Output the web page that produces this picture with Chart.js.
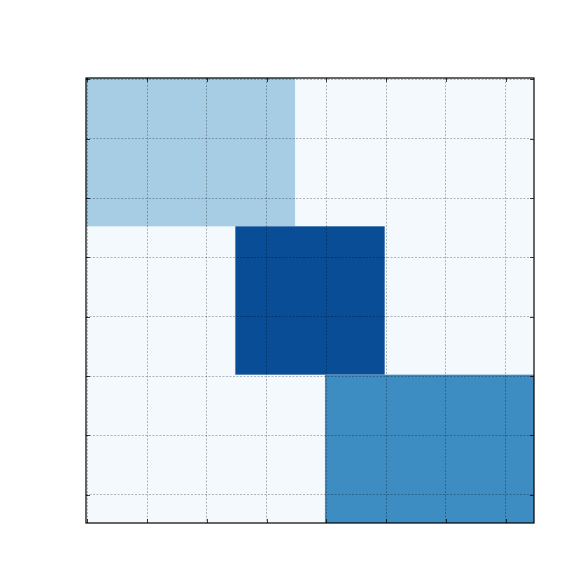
<!DOCTYPE html>
<html>
<head>
<meta charset="utf-8">
<script src="https://cdn.jsdelivr.net/npm/chart.js@4/dist/chart.umd.min.js"></script>
<style>
html,body{margin:0;padding:0;background:#fff;}
#wrap{width:576px;height:576px;}
</style>
</head>
<body>
<div id="wrap"><canvas id="c" width="576" height="576"></canvas></div>
<script>
// Matrix size (rows x columns)
const nRows = 150;
const nCols = 150;
// Biclusters: row span, column span and mean value (0..1 on the Blues scale)
const blockRowStart = [0, 50, 100];
const blockRowEnd   = [50, 100, 150];
const blockColStart = [0, 50, 80];
const blockColEnd   = [70, 100, 150];
const blockValues   = [0.35, 0.89, 0.645];
const backgroundValue = 0.015;
// Tick positions (labels hidden in the reference)
const xTicks = [0, 20, 40, 60, 80, 100, 120, 140];
const yTicks = [0, 20, 40, 60, 80, 100, 120, 140];

// Blues colormap anchors
const bluesStops = [
  [247,251,255],[222,235,247],[198,219,239],[158,202,225],
  [107,174,214],[66,146,198],[33,113,181],[8,81,156],[8,48,107]
];
function blues(v){
  v = Math.max(0, Math.min(1, v));
  const p = v * (bluesStops.length - 1);
  const i = Math.min(Math.floor(p), bluesStops.length - 2);
  const t = p - i;
  const a = bluesStops[i], b = bluesStops[i+1];
  const c = a.map((x,k)=>Math.round(x + (b[k]-x)*t));
  return `rgb(${c[0]},${c[1]},${c[2]})`;
}

const heatmapPlugin = {
  id: 'heatmap',
  beforeDatasetsDraw(chart){
    const {ctx, scales:{x, y}} = chart;
    const rect = (c0, c1, r0, r1, v) => {
      const px0 = x.getPixelForValue(c0 - 0.5);
      const px1 = x.getPixelForValue(c1 - 0.5);
      const py0 = y.getPixelForValue(r0 - 0.5);
      const py1 = y.getPixelForValue(r1 - 0.5);
      ctx.fillStyle = blues(v);
      ctx.fillRect(Math.min(px0,px1), Math.min(py0,py1), Math.abs(px1-px0), Math.abs(py1-py0));
    };
    ctx.save();
    rect(0, nCols, 0, nRows, backgroundValue);
    for (let i = 0; i < blockValues.length; i++) {
      rect(blockColStart[i], blockColEnd[i], blockRowStart[i], blockRowEnd[i], blockValues[i]);
    }
    ctx.restore();
  },
  afterDraw(chart){
    const {ctx, chartArea:a, scales:{x, y}} = chart;
    const L = 4;
    ctx.save();
    ctx.strokeStyle = 'rgba(0,0,0,0.75)';
    ctx.lineWidth = 1;
    ctx.beginPath();
    xTicks.forEach(t => {
      const px = Math.round(x.getPixelForValue(t)) + 0.5;
      ctx.moveTo(px, a.bottom); ctx.lineTo(px, a.bottom - L);
      ctx.moveTo(px, a.top); ctx.lineTo(px, a.top + L);
    });
    yTicks.forEach(t => {
      const py = Math.round(y.getPixelForValue(t)) + 0.5;
      ctx.moveTo(a.left, py); ctx.lineTo(a.left + L, py);
      ctx.moveTo(a.right, py); ctx.lineTo(a.right - L, py);
    });
    ctx.stroke();
    ctx.strokeStyle = '#000';
    ctx.lineWidth = 1.2;
    ctx.strokeRect(a.left, a.top, a.right - a.left, a.bottom - a.top);
    ctx.restore();
  }
};

const gridOpts = {
  color: 'rgba(0,0,0,0.28)',
  lineWidth: 1,
  drawTicks: false,
  z: 1
};

new Chart(document.getElementById('c'), {
  type: 'scatter',
  data: { datasets: [{ data: [] }] },
  options: {
    responsive: false,
    animation: false,
    layout: { padding: { left: 86, right: 42, top: 78, bottom: 53 } },
    plugins: { legend: { display: false }, tooltip: { enabled: false } },
    scales: {
      x: {
        type: 'linear', min: -0.5, max: nCols - 0.5,
        afterBuildTicks: s => { s.ticks = xTicks.map(v => ({value: v})); },
        ticks: { display: false },
        grid: gridOpts,
        border: { display: false, dash: [2,1.5] }
      },
      y: {
        type: 'linear', min: -0.5, max: nRows - 0.5, reverse: true,
        afterBuildTicks: s => { s.ticks = yTicks.map(v => ({value: v})); },
        ticks: { display: false },
        grid: gridOpts,
        border: { display: false, dash: [2,1.5] }
      }
    }
  },
  plugins: [heatmapPlugin]
});
</script>
</body>
</html>
